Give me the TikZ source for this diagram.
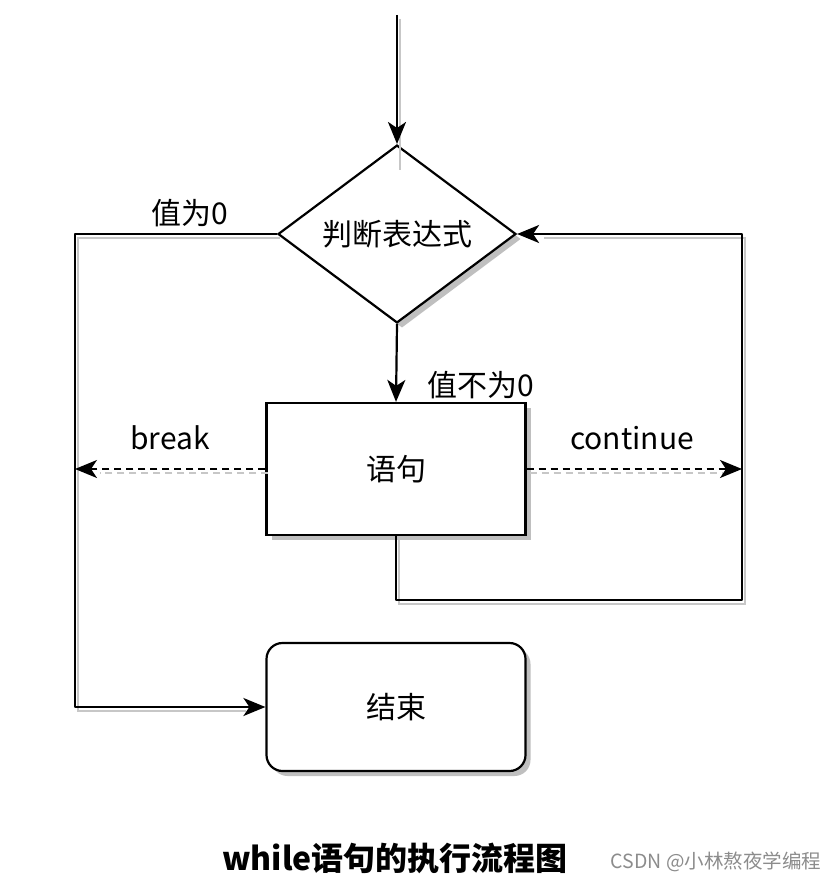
\documentclass[tikz,border=0pt]{standalone}
\usepackage{fontspec}
\setmainfont{Noto Sans CJK SC}
\usetikzlibrary{arrows.meta,shapes.geometric,shadows}
\begin{document}
\begin{tikzpicture}[x=1pt,y=-1pt,
  line/.style={line width=2.2pt,draw=black,line join=round},
  arr/.style={line,-{Stealth[length=22pt,width=18pt,inset=6pt]}},
  shline/.style={line width=2pt,draw=black!22},
  dsh/.style={dash pattern=on 7pt off 5pt},
  boxshadow/.style={general shadow={fill=black!25,shadow xshift=5pt,shadow yshift=-5pt}},
  lbl/.style={font=\fontsize{30}{32}\selectfont,inner sep=0pt},
  decbox/.style={diamond,draw=black,line width=2.2pt,fill=white,minimum width=238pt,minimum height=172pt,inner sep=0pt,boxshadow,font=\fontsize{30}{32}\selectfont},
  stmtbox/.style={rectangle,draw=black,line width=2.2pt,fill=white,minimum width=259pt,minimum height=132pt,inner sep=0pt,boxshadow,font=\fontsize{30}{32}\selectfont},
  endbox/.style={rectangle,rounded corners=16pt,draw=black,line width=2.2pt,fill=white,minimum width=259pt,minimum height=128pt,inner sep=0pt,boxshadow,font=\fontsize{30}{32}\selectfont}
]
\useasboundingbox (0,0) rectangle (837,885);
% nodes
\node[decbox] (dia) at (397,234) {判断表达式};
\node[stmtbox] (stmt) at (396,469) {语句};
\node[endbox] (endb) at (396,707) {结束};
\coordinate (start) at (397,15);
\coordinate (lt) at (75,234);
\coordinate (lb) at (75,707);
\coordinate (rt) at (742,234);
\coordinate (rb) at (742,600);
% shadows of connectors
\begin{scope}[transform canvas={shift={(3,4)}}]
  \draw[shline] (start) -- ([yshift=-22pt]dia.north);
  \draw[shline] (dia.west) -- (lt) -- (lb) -- ([xshift=-22pt]endb.west);
  \draw[shline] (stmt.south) |- (rb) -- (rt) -- ([xshift=24pt]dia.east);
  \draw[shline,dsh] (stmt.west) -- ([xshift=22pt]stmt.west -| lt);
  \draw[shline,dsh] (stmt.east) -- ([xshift=-22pt]stmt.east -| rt);
\end{scope}
% connectors
\draw[arr] (start) -- (dia.north);
\draw[arr] (dia.south) -- (stmt.north);
\draw[arr] (dia.west) -- (lt) -- (lb) -- (endb.west);
\draw[arr] (stmt.south) |- (rb) -- (rt) -- (dia.east);
\draw[arr,dsh] (stmt.west) -- (stmt.west -| lt);
\draw[arr,dsh] (stmt.east) -- (stmt.east -| rt);
% labels
\node[lbl] (l0) at (190,213) {值为0};
\node[lbl] (l1) at (481,385) {值不为0};
\node[lbl] (lbrk) at (170,438) {break};
\node[lbl] (lcont) at (632,438) {continue};
\node[inner sep=0pt,font=\fontsize{32}{34}\selectfont\bfseries] (title) at (395,858) {while语句的执行流程图};
\node[inner sep=0pt,text=black!45,font=\fontsize{19.5}{21}\selectfont] (wm) at (716,862) {CSDN @小林熬夜学编程};
\end{tikzpicture}
\end{document}
